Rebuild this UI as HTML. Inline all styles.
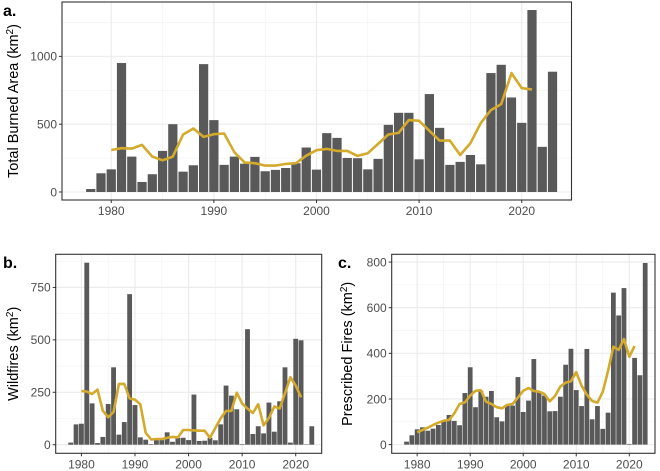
<!DOCTYPE html>
<html><head><meta charset="utf-8">
<style>
html,body{margin:0;padding:0;background:#fff;}
svg{display:block;font-family:"Liberation Sans",sans-serif;}
</style></head>
<body>
<svg id="fig" width="660" height="471" viewBox="0 0 660 471"></svg>
<script>
const years = [];
for (let y = 1978; y <= 2023; y++) years.push(y);
const trendYears = [];
for (let y = 1980; y <= 2021; y++) trendYears.push(y);

const totalValues = [22,138,167,951,261,74,131,303,500,150,197,943,530,200,261,209,259,153,163,177,212,328,165,434,399,251,249,167,244,495,584,584,241,722,473,200,222,273,204,877,938,697,510,1342,333,887];
const totalTrend = [310,323,320,347,261,234,261,424,468,406,426,431,293,217,212,195,195,207,212,268,308,318,303,303,266,286,355,424,436,530,525,451,379,379,273,360,507,604,648,877,766,756];

const wildValues = [10,97,100,868,197,8,37,194,369,48,108,718,189,35,24,3,22,22,59,14,33,33,22,239,18,19,33,21,97,282,234,169,3,551,51,88,54,201,62,207,369,10,505,498,2,88];
const wildTrend = [256,253,242,263,162,131,156,290,290,221,215,193,57,25,27,27,33,37,35,70,70,68,67,67,33,80,126,161,161,248,197,172,151,193,92,127,182,172,245,322,282,226];

const rxValues = [13,41,67,76,61,70,86,107,130,104,85,226,339,164,236,210,235,120,102,171,171,296,143,193,375,229,215,146,147,210,350,420,239,169,419,111,169,69,140,666,566,686,3,380,304,796];
const rxTrend = [54,64,74,86,96,105,108,137,178,185,215,236,238,188,178,164,159,174,178,206,236,248,235,232,222,190,213,254,272,277,318,258,218,191,184,232,324,429,415,463,385,432];

const xTicks = [1980,1990,2000,2010,2020];
const aTicks = [0,500,1000];
const bTicks = [0,250,500,750];
const cTicks = [0,200,400,600,800];

const NS = "http://www.w3.org/2000/svg";
const svg = document.getElementById('fig');
function mk(tag, attrs, parent){
  const e = document.createElementNS(NS, tag);
  for (const k in attrs) e.setAttribute(k, attrs[k]);
  (parent||svg).appendChild(e);
  return e;
}

function panel(cfg){
  const g = mk('g', {});
  
  
  const {L,R,T,B,xmin,xmax,ymin,ymax} = cfg;
  const sx = v => L + (v - xmin) / (xmax - xmin) * (R - L);
  const sy = v => B - (v - ymin) / (ymax - ymin) * (B - T);
  const xt = cfg.xTicks, yt = cfg.yTicks;
  const xstep = xt[1]-xt[0], ystep = yt[1]-yt[0];
  for (let v = xt[0]-xstep/2; v <= xmax; v += xstep) if (v>=xmin) mk('line',{x1:sx(v),x2:sx(v),y1:T,y2:B,stroke:'#f2f2f2','stroke-width':0.6},g);
  for (let v = yt[0]+ystep/2; v <= ymax; v += ystep) mk('line',{x1:L,x2:R,y1:sy(v),y2:sy(v),stroke:'#f2f2f2','stroke-width':0.6},g);
  xt.forEach(v=>mk('line',{x1:sx(v),x2:sx(v),y1:T,y2:B,stroke:'#ebebeb','stroke-width':1.1},g));
  yt.forEach(v=>mk('line',{x1:L,x2:R,y1:sy(v),y2:sy(v),stroke:'#ebebeb','stroke-width':1.1},g));
  const bw = (sx(1) - sx(0)) * 0.9;
  cfg.values.forEach((v,i)=>{
    const r = mk('rect',{x:sx(years[i])-bw/2,y:sy(v),width:bw,height:Math.max(0,sy(0)-sy(v)),fill:'#595959'},g);
    
    
  });
  const pts = cfg.trend.map((v,i)=>sx(trendYears[i]).toFixed(1)+','+sy(v).toFixed(1)).join(' ');
  const pl = mk('polyline',{points:pts,fill:'none',stroke:'#D4AA2C','stroke-width':2.6,'stroke-linejoin':'round'},g);
  
  
  mk('rect',{x:L,y:T,width:R-L,height:B-T,fill:'none',stroke:'#333','stroke-width':1.1},g);
  xt.forEach(v=>{
    mk('line',{x1:sx(v),x2:sx(v),y1:B,y2:B+3,stroke:'#333','stroke-width':1},g);
    const t = mk('text',{x:sx(v),y:B+15,'font-size':12,fill:'#4d4d4d','text-anchor':'middle'},g);
    t.textContent = v;
    
    
  });
  yt.forEach(v=>{
    mk('line',{x1:L-3,x2:L,y1:sy(v),y2:sy(v),stroke:'#333','stroke-width':1},g);
    const t = mk('text',{x:L-5,y:sy(v)+4.3,'font-size':12,fill:'#4d4d4d','text-anchor':'end'},g);
    t.textContent = v;
    
    
  });
  const yt2 = mk('text',{x:0,y:0,'font-size':14.5,fill:'#000','text-anchor':'middle',transform:`translate(${cfg.titleX},${(T+B)/2}) rotate(-90)`},g);
  
  
  yt2.appendChild(document.createTextNode(cfg.title + ' (km'));
  const sup = mk('tspan',{'font-size':10,dy:-5},yt2); sup.textContent='2';
  const cl = mk('tspan',{dy:5},yt2); cl.textContent=')';
  const pt = mk('text',{x:cfg.letterX,y:cfg.letterY,'font-size':16,'font-weight':'bold',fill:'#000'},g);
  pt.textContent = cfg.letter;
  
  
}

panel({name:'panel-a-total',L:62,R:571.5,T:2,B:200,xmin:1975.2,xmax:2024.85,ymin:-59,ymax:1401,
  values:totalValues,trend:totalTrend,xTicks:xTicks,yTicks:aTicks,title:'Total Burned Area',titleX:18,letter:'a.',letterX:3,letterY:16});
panel({name:'panel-b-wildfires',L:55.7,R:321.7,T:254.3,B:453.3,xmin:1975.2,xmax:2024.85,ymin:-41,ymax:908,
  values:wildValues,trend:wildTrend,xTicks:xTicks,yTicks:bTicks,title:'Wildfires',titleX:18,letter:'b.',letterX:3,letterY:268});
panel({name:'panel-c-prescribed',L:391.7,R:655,T:254.3,B:453.3,xmin:1975.2,xmax:2024.85,ymin:-38,ymax:834,
  values:rxValues,trend:rxTrend,xTicks:xTicks,yTicks:cTicks,title:'Prescribed Fires',titleX:352,letter:'c.',letterX:338,letterY:268});
</script>
</body></html>
